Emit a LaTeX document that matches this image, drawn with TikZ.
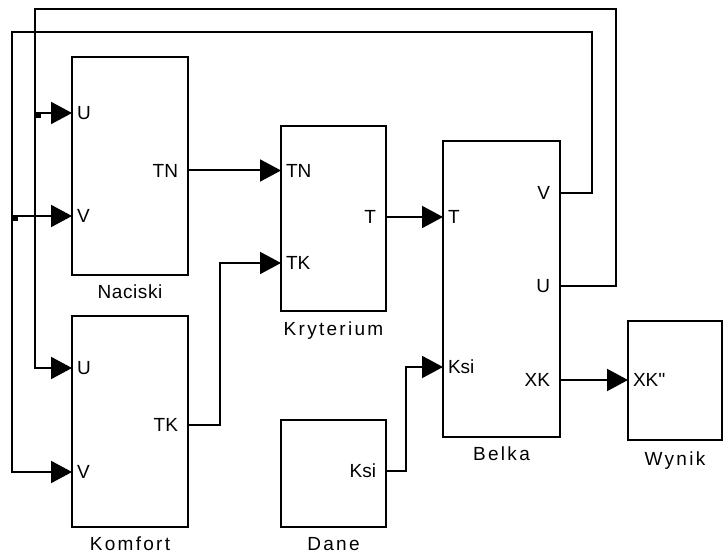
\documentclass[tikz,border=0pt]{standalone}
\usepackage{fontspec}
\setmainfont{Liberation Sans}
\newfontfamily\portfont{Liberation Sans}
\newfontfamily\namefont{Liberation Sans}[LetterSpace=12]
\newfontfamily\namefonttight{Liberation Sans}[LetterSpace=3]
\usetikzlibrary{arrows.meta}
\begin{document}
\begin{tikzpicture}[x=1pt,y=-1pt,line width=2pt,
  blk/.style={draw,rectangle,inner sep=0pt,outer sep=0pt},
  blkname/.style={font=\namefont\fontsize{19}{22}\selectfont,inner sep=0pt,anchor=base},
  blknametight/.style={font=\namefonttight\fontsize{19}{22}\selectfont,inner sep=0pt,anchor=base},
  pin/.style={font=\portfont\fontsize{19}{22}\selectfont,inner sep=0pt,anchor=west},
  pout/.style={font=\portfont\fontsize{19}{22}\selectfont,inner sep=0pt,anchor=east},
  sig/.style={-{Triangle[length=21pt,width=22pt]}}]
\useasboundingbox (0,0) rectangle (723,553);

% blocks
\node[blk,minimum width=116pt,minimum height=218pt] (nac) at (130,166) {};
\node[blk,minimum width=116pt,minimum height=211pt] (kom) at (130,421.5) {};
\node[blk,minimum width=105pt,minimum height=185pt] (kry) at (333.5,218.5) {};
\node[blk,minimum width=117pt,minimum height=296pt] (bel) at (501.5,289) {};
\node[blk,minimum width=105pt,minimum height=107pt] (dan) at (333.5,473.5) {};
\node[blk,minimum width=94pt,minimum height=119pt] (wyn) at (675,380.5) {};

% block names
\node[blknametight] (nacL) at ([yshift=-24pt]nac.south) {Naciski};
\node[blkname] (komL) at ([yshift=-23pt]kom.south) {Komfort};
\node[blkname] (kryL) at ([yshift=-24pt]kry.south) {Kryterium};
\node[blkname] (belL) at ([yshift=-23pt]bel.south) {Belka};
\node[blkname] (danL) at ([yshift=-23pt]dan.south) {Dane};
\node[blkname] (wynL) at ([yshift=-25pt]wyn.south) {Wynik};

% ports
\coordinate (nacU) at (72,113);
\coordinate (nacV) at (72,216);
\coordinate (nacTN) at (188,170.5);
\coordinate (komU) at (72,368);
\coordinate (komV) at (72,472);
\coordinate (komTK) at (188,425);
\coordinate (kryTN) at (281,170.5);
\coordinate (kryTK) at (281,263);
\coordinate (kryT) at (386,217);
\coordinate (belV) at (560,193);
\coordinate (belT) at (443,217);
\coordinate (belU) at (560,286);
\coordinate (belKsi) at (443,367);
\coordinate (belXK) at (560,380);
\coordinate (danKsi) at (386,471);
\coordinate (wynXK) at (628,380);

% port labels
\node[pin] (lnU) at ([xshift=4pt]nacU) {U};
\node[pin] (lnV) at ([xshift=4pt]nacV) {V};
\node[pout] (lnTN) at ([xshift=-9pt]nacTN) {TN};
\node[pin] (lkU) at ([xshift=4pt]komU) {U};
\node[pin] (lkV) at ([xshift=4pt]komV) {V};
\node[pout] (lkTK) at ([xshift=-9pt]komTK) {TK};
\node[pin] (lrTN) at ([xshift=4pt]kryTN) {TN};
\node[pin] (lrTK) at ([xshift=4pt]kryTK) {TK};
\node[pout] (lrT) at ([xshift=-9pt]kryT) {T};
\node[pout] (lbV) at ([xshift=-9pt]belV) {V};
\node[pin] (lbT) at ([xshift=4pt]belT) {T};
\node[pout] (lbU) at ([xshift=-9pt]belU) {U};
\node[pin] (lbKsi) at ([xshift=4pt]belKsi) {Ksi};
\node[pout] (lbXK) at ([xshift=-9pt]belXK) {XK};
\node[pout] (ldKsi) at ([xshift=-9pt]danKsi) {Ksi};
\node[pin] (lwXK) at ([xshift=4pt]wynXK) {XK\textquotesingle\textquotesingle};

% routing points
\coordinate (uR) at (616,9);
\coordinate (uL) at (35,9);
\coordinate (uBr) at (35,113);
\coordinate (vR) at (592,32);
\coordinate (vL) at (12,32);
\coordinate (vBr) at (12,216);

% connectors
\draw[sig] (nacTN) -- (kryTN);
\draw[sig] (komTK) -- ++(32,0) |- (kryTK);
\draw[sig] (kryT) -- (belT);
\draw[sig] (danKsi) -- ++(20,0) |- (belKsi);
\draw[sig] (belXK) -- (wynXK);
\draw[sig] (belU) -| (uR) -- (uL) |- (komU);
\draw[sig] (uBr) -- (nacU);
\draw[sig] (belV) -| (vR) -- (vL) |- (komV);
\draw[sig] (vBr) -- (nacV);

% junctions
\fill (35,112.5) rectangle ++(6,6);
\fill (12,215.5) rectangle ++(6,6);
\end{tikzpicture}
\end{document}
